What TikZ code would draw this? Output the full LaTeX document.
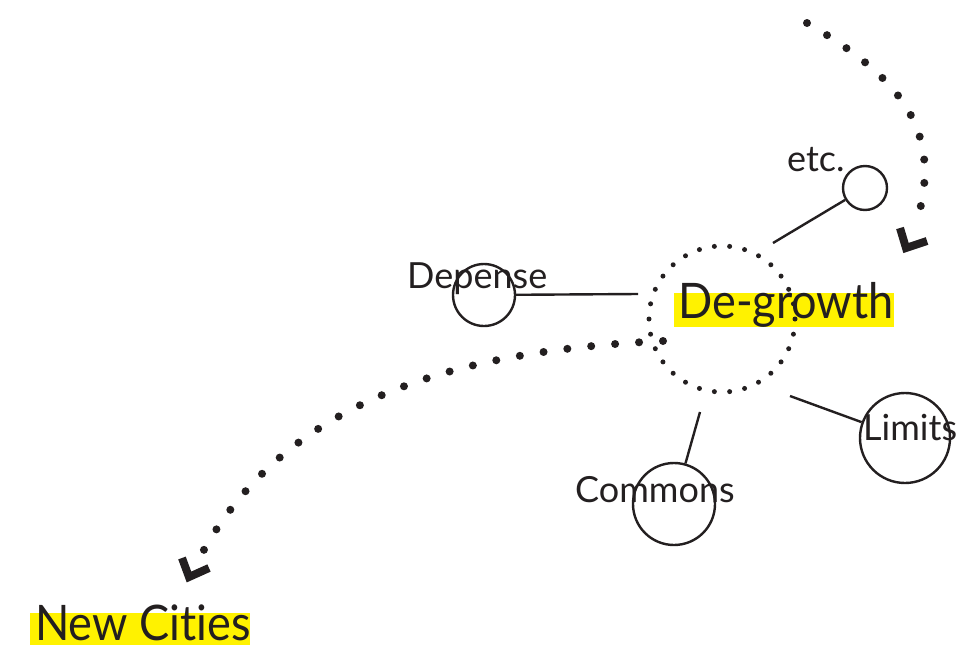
\documentclass[tikz,border=0pt]{standalone}
\usepackage{fontspec}
\setmainfont[Ligatures={NoCommon,NoDiscretionary}]{Lato}
\newfontfamily\bigfont[FakeStretch=0.92,Ligatures={NoCommon,NoDiscretionary}]{Lato}
\definecolor{ink}{HTML}{231F20}
\definecolor{hl}{HTML}{FFF200}
\begin{document}
\begin{tikzpicture}[x=1pt,y=-1pt,
  ring/.style={circle,draw=ink,line width=2.4pt,inner sep=0pt},
  spoke/.style={draw=ink,line width=2.4pt},
  lbl/.style={anchor=base west,inner sep=0pt,text=ink,font=\fontsize{36}{40}\selectfont},
  biglbl/.style={anchor=base west,inner sep=0pt,text=ink,font=\bigfont\fontsize{49}{54}\selectfont},
  bigdots/.style={draw=ink,line width=8pt,line cap=round,dash pattern=on 0pt off 24pt},
  topdots/.style={draw=ink,line width=8pt,line cap=round,dash pattern=on 0pt off 23.4pt},
  ringdots/.style={circle,draw=ink,line width=5pt,line cap=round,dash pattern=on 0pt off 15.29pt,inner sep=0pt,minimum size=146pt},
  chevron/.style={draw=ink,line width=8pt,miter limit=10}
]
\useasboundingbox (0,0) rectangle (964,646);
% highlights
\fill[hl] (674,293) rectangle (894,327);
\fill[hl] (30,613) rectangle (250,645);
% central dotted ring
\node[ringdots] (ring) at (722,319) {};
% satellite circles
\node[ring,minimum size=44pt] (cetc) at (865,188) {};
\node[ring,minimum size=62pt] (cdep) at (484,295) {};
\node[ring,minimum size=82pt] (ccom) at (674,504) {};
\node[ring,minimum size=90pt] (clim) at (905,438) {};
% spoke inner ends
\coordinate (setc) at (773,243);
\coordinate (sdep) at (638,294);
\coordinate (scom) at (700,412);
\coordinate (slim) at (790,396);
\draw[spoke] (setc) -- (cetc);
\draw[spoke] (sdep) -- (cdep);
\draw[spoke] (scom) -- (ccom);
\draw[spoke] (slim) -- (clim);
% labels
\node[lbl] (tetc) at (787,171) {etc.};
\node[lbl] (tdep) at (407,288) {Depense};
\node[lbl] (tcom) at (575,502) {Commons};
\node[lbl] (tlim) at (863,440) {Limits};
\node[biglbl] (tdg) at (678,318) {De-growth};
\node[biglbl] (tnc) at (35,640) {New Cities};
% dotted connectors
\coordinate (b0) at (663,341);
\coordinate (b1) at (200,557);
\draw[bigdots] (b0) .. controls (470,350) and (288,393) .. (b1);
\coordinate (t0) at (807,23);
\coordinate (t1) at (915,227);
\draw[topdots] (t0) .. controls (905,80) and (945,135) .. (t1);
% arrowheads
\draw[chevron] (182,558) -- (189,577) -- (209,568);
\draw[chevron] (900,228) -- (906,248) -- (927,241);
\end{tikzpicture}
\end{document}
